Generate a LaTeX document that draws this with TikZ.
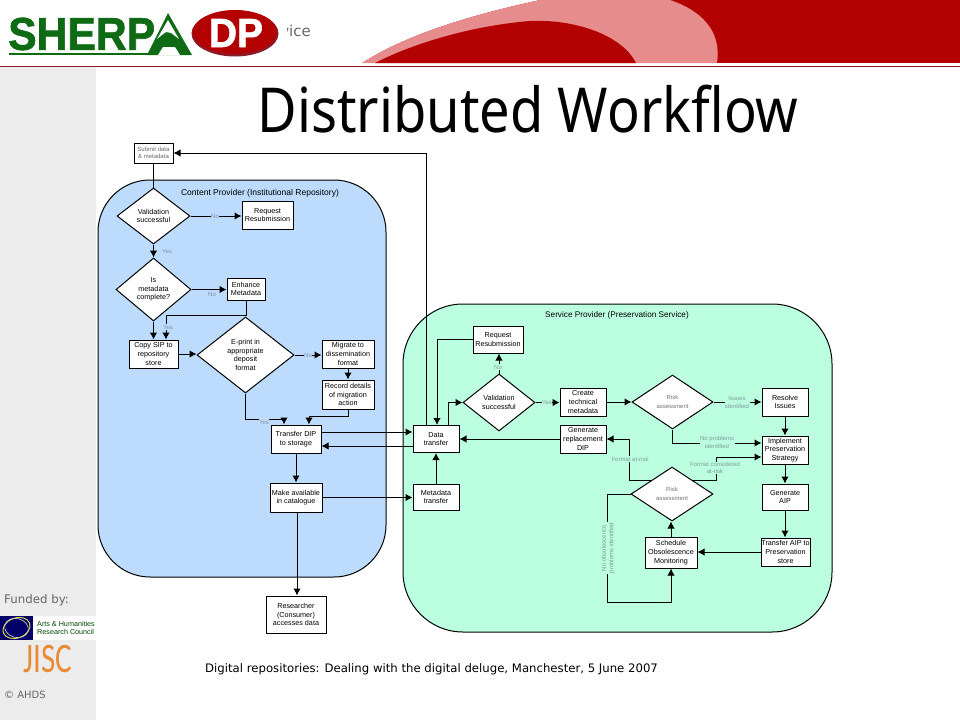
\documentclass[tikz,border=0pt]{standalone}
\usepackage{fontspec}
\setmainfont{Liberation Sans}
\newfontfamily\titlefont{Noto Sans}
\newfontfamily\footfont{DejaVu Sans}
\newfontfamily\lightfont{Carlito}
\newfontfamily\heavyfont[BoldFeatures={FakeBold=1.5}]{Liberation Sans}
\usetikzlibrary{shapes.geometric,arrows.meta}
\definecolor{bandred}{HTML}{B30000}
\definecolor{bandpink}{HTML}{E68C8C}
\definecolor{rule}{HTML}{8C1A2A}
\definecolor{side}{HTML}{ECECEC}
\definecolor{blueback}{HTML}{BDDCFD}
\definecolor{greenback}{HTML}{BBFFE0}
\definecolor{sherpa}{HTML}{0F6A14}
\definecolor{labelgrey}{HTML}{7F9A9A}
\definecolor{labelblue}{HTML}{7F93A8}
\definecolor{jisc}{HTML}{E88B33}
\tikzset{
  boxnode/.style={draw=black,fill=white,line width=1pt,inner sep=0pt,align=center,font=\fontsize{7.2}{8.7}\selectfont},
  decision/.style={draw=black,fill=white,line width=1pt,diamond,inner sep=0pt,align=center,font=\fontsize{7.2}{8.7}\selectfont},
  region/.style={draw=black,line width=1pt,rounded corners=52pt},
  flow/.style={line width=1pt,-{Latex[length=7pt,width=7.5pt]}},
  plainline/.style={line width=1pt},
  tag/.style={font=\fontsize{6}{7.4}\selectfont,align=center,inner sep=0.5pt},
  tagb/.style={tag,text=labelblue,fill=blueback},
  tagg/.style={tag,text=labelgrey,fill=greenback},
}
\begin{document}
\begin{tikzpicture}[x=1pt,y=-1pt]
\useasboundingbox (0,0) rectangle (960,720);
% header
\fill[bandred] (362,0) rectangle (960,63);
\fill[white] (362,0) -- (540,0) .. controls (480,13) and (410,32) .. (362,63) -- cycle;
\fill[bandpink] (362,63) .. controls (410,32) and (480,13) .. (540,0) -- (670,0)
  .. controls (700,10) and (722,30) .. (717,63) -- cycle;
\fill[bandred] (375,63) .. controls (420,40) and (480,25) .. (530,21)
  .. controls (575,19) and (622,35) .. (636,63) -- cycle;
\fill[rule] (0,66) rectangle (960,67.2);
\fill[side] (0,67.2) rectangle (96,720);
% logo
\node[anchor=west,inner sep=0pt,text=sherpa] (sherpaword) at (8,34) {\resizebox{147pt}{32pt}{\heavyfont\bfseries SHERP}};
\fill[sherpa] (9,52.5) rectangle (150,55);
\fill[sherpa] (168,13) -- (192,55) -- (147,55) -- cycle;
\fill[white] (168,20) -- (179,39) -- (175,36) -- (171,33) -- (166,32) -- (162,35) -- (157,39) -- cycle;
\fill[white] (158,55) -- (163,47) -- (175,47) -- (180,55) -- cycle;
\fill[rule] (235,33.5) ellipse [x radius=43.5,y radius=23];
\fill[bandred] (235,32) ellipse [x radius=42,y radius=22];
\node[text=white,inner sep=0pt] (dpword) at (236,33) {\resizebox{54pt}{28pt}{\heavyfont\bfseries DP}};
\begin{scope}
\clip (287,15) rectangle (330,45);
\node[anchor=east,inner sep=0pt,text=black!60,font=\footfont\fontsize{15}{16}\selectfont] (viceword) at (311,31) {vice};
\end{scope}
% title and footer
\node[anchor=base,inner sep=0pt] (title) at (528,132) {\scalebox{.875}[1]{\titlefont\fontsize{62}{62}\selectfont Distributed Workflow}};
\node[anchor=west,inner sep=0pt,font=\footfont\fontsize{11.7}{12}\selectfont] (footer) at (205,669) {Digital repositories: Dealing with the digital deluge, Manchester, 5 June 2007};
% funders
\node[anchor=west,inner sep=0pt,text=black!60,font=\footfont\fontsize{11.8}{12}\selectfont] (funded) at (4,600) {Funded by:};
\fill[white] (0,616) rectangle (96,639.5);
\fill[black!10!blue!45!black] (0,616) rectangle (33,639.5);
\draw[yellow!70!gray,line width=1pt,rotate around={20:(16.5,628)}] (16.5,628) ellipse [x radius=14,y radius=10];
\draw[white!80!black,line width=.7pt,rotate around={-15:(16.5,628)}] (16.5,628) ellipse [x radius=12,y radius=9.5];
\node[anchor=west,inner sep=0pt,align=left,text=black!70!green,font=\fontsize{7.2}{8}\selectfont] (ahrc) at (37,628) {Arts \& Humanities\\Research Council};
\node[inner sep=0pt,text=jisc] (jiscword) at (48,659.5) {\scalebox{.74}[1]{\lightfont\fontsize{42}{42}\selectfont JISC}};
\node[anchor=west,inner sep=0pt,text=black!60,font=\footfont\fontsize{10}{11}\selectfont] (ahds) at (4,695) {© AHDS};
% regions
\draw[region,fill=blueback] (98,180) rectangle (386,577);
\draw[region,fill=greenback,rounded corners=60pt] (403,304) rectangle (832,632);
\node[inner sep=0pt,font=\fontsize{8.5}{9}\selectfont] (contentlabel) at (260,193) {Content Provider (Institutional Repository)};
\node[inner sep=0pt,font=\fontsize{8.2}{9}\selectfont] (servicelabel) at (617,315) {Service Provider (Preservation Service)};
% left nodes
\node[boxnode,minimum width=39pt,minimum height=20pt,text=black!60,font=\fontsize{6}{7.4}\selectfont] (submit) at (153.5,153) {Submit data\\\& metadata};
\node[decision,minimum width=73pt,minimum height=56pt] (val1) at (153.5,216) {Validation\\successful};
\node[boxnode,minimum width=51pt,minimum height=28pt] (req1) at (267.5,215) {Request\\Resubmission};
\node[decision,minimum width=75pt,minimum height=63pt] (meta) at (153.5,289.5) {Is\\metadata\\complete?};
\node[boxnode,minimum width=38pt,minimum height=22pt] (enh) at (246,289) {Enhance\\Metadata};
\node[boxnode,minimum width=49pt,minimum height=28pt] (copy) at (153.5,354) {Copy SIP to\\repository\\store};
\node[decision,minimum width=97pt,minimum height=76pt] (eprint) at (245.5,355) {E-print in\\appropriate\\deposit\\format};
\node[boxnode,minimum width=52pt,minimum height=28pt] (mig) at (348,354) {Migrate to\\dissemination\\format};
\node[boxnode,minimum width=52pt,minimum height=29pt] (rec) at (348,394.5) {Record details\\of migration\\action};
\node[boxnode,minimum width=50pt,minimum height=28pt] (tdip) at (296,439) {Transfer DIP\\to storage};
\node[boxnode,minimum width=52pt,minimum height=29pt] (make) at (296,497.5) {Make available\\in catalogue};
\node[boxnode,minimum width=60pt,minimum height=37pt] (res) at (296,614.5) {Researcher\\(Consumer)\\accesses data};
% right nodes
\node[boxnode,minimum width=46pt,minimum height=27pt] (data) at (436,439) {Data\\transfer};
\node[boxnode,minimum width=46pt,minimum height=26pt] (mtr) at (436,497) {Metadata\\transfer};
\node[boxnode,minimum width=50pt,minimum height=27pt] (req2) at (498,339.5) {Request\\Resubmission};
\node[decision,minimum width=72pt,minimum height=57pt] (val2) at (499,402.5) {Validation\\successful};
\node[boxnode,minimum width=46pt,minimum height=28pt] (create) at (583,402) {Create\\technical\\metadata};
\node[boxnode,minimum width=46pt,minimum height=28pt] (gen) at (583,439) {Generate\\replacement\\DIP};
\node[decision,minimum width=81pt,minimum height=54pt,text=black!55,font=\fontsize{6}{8.4}\selectfont] (risk1) at (672.5,402) {Risk\\assessment};
\node[decision,minimum width=82pt,minimum height=54pt,text=black!55,font=\fontsize{6}{8.4}\selectfont] (risk2) at (672,494) {Risk\\assessment};
\node[boxnode,minimum width=46pt,minimum height=28pt] (resolve) at (785,402) {Resolve\\Issues};
\node[boxnode,minimum width=46pt,minimum height=28pt] (impl) at (785,450) {Implement\\Preservation\\Strategy};
\node[boxnode,minimum width=46pt,minimum height=26pt] (genaip) at (785,497) {Generate\\AIP};
\node[boxnode,minimum width=49pt,minimum height=28pt] (taip) at (785.5,552) {Transfer AIP to\\Preservation\\store};
\node[boxnode,minimum width=52pt,minimum height=31pt] (sched) at (671,552.5) {Schedule\\Obsolescence\\Monitoring};
% left connectors
\draw[plainline] (submit.south) -- (val1.north);
\draw[flow] (val1.east) -- (val1.east -| req1.west);
\draw[flow] (val1.south) -- (meta.north);
\draw[flow] (meta.east) -- (meta.east -| enh.west);
\draw[flow] (meta.south) -- (copy.north);
\draw[flow] (enh.south) -- ++(0,15) -| ([xshift=12.5]copy.north);
\draw[flow] (copy.east) -- (copy.east -| eprint.west);
\draw[flow] (eprint.east) -- (eprint.east -| mig.west);
\draw[flow] (mig.south) -- (rec.north);
\draw[flow] (eprint.south) -- ++(0,26) -| ([xshift=-12]tdip.north);
\draw[flow] (rec.south) -- ++(0,7) -| ([xshift=13]tdip.north);
\draw[flow] ([yshift=7]tdip.east) -- ([yshift=7]data.west);
\draw[flow] ([yshift=-7]data.west) -- ([yshift=-7]tdip.east);
\draw[flow] (tdip.south) -- (make.north);
\draw[flow] (make.east) -- (make.east -| mtr.west);
\draw[flow] ([xshift=1]make.south) -- ([xshift=1]res.north);
% right connectors
\draw[flow] (mtr.north) -- (data.south);
\draw[flow] ([xshift=-10]data.north) |- (submit.east);
\draw[flow] (req2.west) -| ([xshift=1]data.north);
\draw[flow] ([xshift=12]data.north) |- (val2.west);
\draw[flow] (val2.north) -- (val2.north |- req2.south);
\draw[flow] (val2.east) -- (val2.east -| create.west);
\draw[flow] (create.east) -- (create.east -| risk1.west);
\draw[flow] (risk1.east) -- (risk1.east -| resolve.west);
\draw[flow] (resolve.south) -- (impl.north);
\draw[flow] (risk1.south) |- ([yshift=7]impl.west);
\draw[flow] (gen.west) -- (data.east);
\draw[flow] (risk2.north west) -- ++(-21.5,0) coordinate (g1) |- (gen.east);
\draw[flow] (risk2.north east) -- ++(23.5,0) coordinate (g2) |- ([yshift=-7]impl.west);
\draw[flow] (impl.south) -- (genaip.north);
\draw[flow] (genaip.south) -- (genaip.south |- taip.north);
\draw[flow] (taip.west) -- (taip.west -| sched.east);
\draw[flow] (sched.north) -- (sched.north |- risk2.south);
\draw[flow] (risk2.west) -- ++(-23,0) |- ++(0,108) -| (sched.south);
% labels
\node[tagb] (t1) at (215,216) {No};
\node[tag,text=labelblue] (t2) at (167,251) {Yes};
\node[tag,text=labelblue] (t3) at (212,294.5) {No};
\node[tagb] (t4) at (168,327) {Yes};
\node[tagb] (t5) at (308,355) {No};
\node[tagb] (t6) at (264,422) {Yes};
\node[tagg] (t7) at (498,367) {No};
\node[tagg] (t8) at (547,402) {Yes};
\node[tagg] (t9) at (737,402.5) {Issues\\identified};
\node[tagg] (t10) at (717,442.5) {No problems\\identified};
\node[tagg] (t11) at (630,459) {Format at-risk};
\node[tagg] (t12) at (715,468) {Format considered\\at-risk};
\node[tagg,rotate=90] (t13) at (608,548) {No obsolescence\\problems identified};
\end{tikzpicture}
\end{document}
